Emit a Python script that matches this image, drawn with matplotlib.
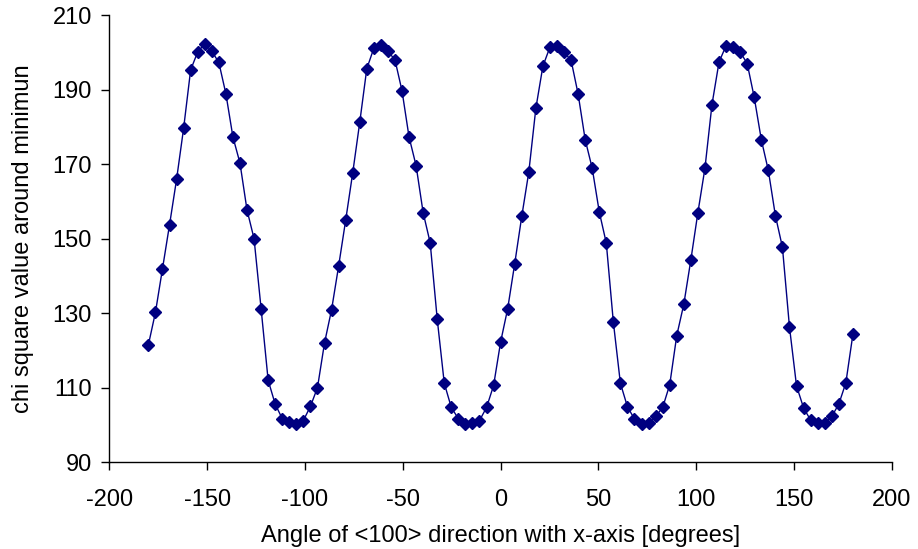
import numpy as np
import matplotlib
matplotlib.use("Agg")
import matplotlib.pyplot as plt

# angle grid: -180 .. 180 in 3.6 degree steps (101 points)
angles = np.linspace(-180, 180, 101)

chi2 = [
    121.5, 130.2, 141.9, 153.7, 165.9, 179.6, 195.3, 200.1, 202.3, 200.3,
    197.3, 188.9, 177.3, 170.3, 157.7, 150.0, 131.2, 112.0, 105.6, 101.7,
    100.9, 100.3, 101.2, 105.0, 110.0, 122.0, 130.9, 142.6, 154.9, 167.6,
    181.2, 195.6, 201.1, 201.9, 200.3, 198.0, 189.7, 177.3, 169.6, 157.0,
    148.9, 128.4, 111.2, 104.7, 101.7, 100.3, 100.6, 101.2, 104.7, 110.6,
    122.3, 131.2, 143.3, 156.0, 167.9, 185.0, 196.3, 201.4, 201.8, 200.0,
    197.9, 188.8, 176.6, 168.9, 157.2, 148.8, 127.6, 111.2, 104.9, 101.6,
    100.3, 100.6, 102.3, 104.7, 110.8, 124.0, 132.4, 144.3, 157.0, 168.9,
    186.0, 197.4, 201.8, 201.5, 200.1, 197.0, 187.9, 176.6, 168.3, 156.2,
    147.7, 126.3, 110.5, 104.6, 101.3, 100.6, 100.6, 102.3, 105.6, 111.3,
    124.3,
]

xticks = [-200, -150, -100, -50, 0, 50, 100, 150, 200]
yticks = [90, 110, 130, 150, 170, 190, 210]

plt.rcParams['font.family'] = ['Liberation Sans', 'DejaVu Sans']
plt.rcParams['axes.unicode_minus'] = False

fig = plt.figure(figsize=(9.18, 5.49), dpi=100)
ax = fig.add_axes([0.119, 0.158, 0.8527, 0.8145])

ax.plot(angles, chi2, color='#000080', linewidth=1.0, marker='D',
        markersize=6.5, markerfacecolor='#000080', markeredgecolor='#000080')

ax.set_xlim(-200, 200)
ax.set_ylim(90, 210)
ax.set_xticks(xticks)
ax.set_yticks(yticks)
ax.tick_params(direction='out', length=5.5, width=1, labelsize=17)
ax.tick_params(axis='x', pad=14)
ax.tick_params(axis='y', pad=7)

for s in ['top', 'right']:
    ax.spines[s].set_visible(False)
for s in ['left', 'bottom']:
    ax.spines[s].set_linewidth(1)

ax.set_xlabel('Angle of <100> direction with x-axis [degrees]', fontsize=17, labelpad=10)
ax.set_ylabel('chi square value around minimun', fontsize=17, labelpad=13)

fig.savefig('out.png', dpi=100)
